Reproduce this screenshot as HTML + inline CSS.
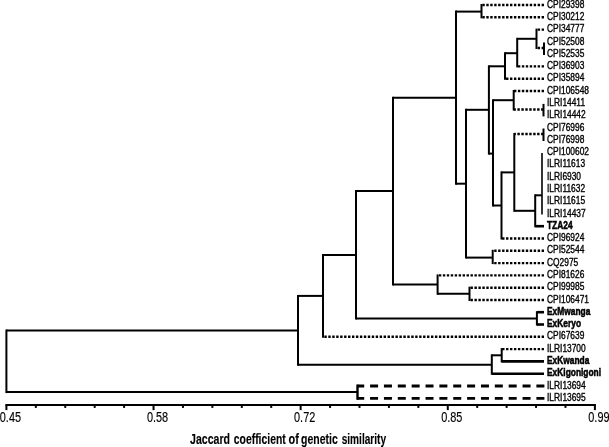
<!DOCTYPE html>
<html><head><meta charset="utf-8"><style>
html,body{margin:0;padding:0;background:#fff;width:609px;height:447px;overflow:hidden}
svg{display:block;will-change:transform}
.s{stroke:#000;stroke-width:2.0;fill:none}
.b{stroke:#000;stroke-width:2.6;fill:none}
.d{stroke:#000;stroke-width:2.4;stroke-dasharray:2.4 1.55;fill:none}
.da{stroke:#000;stroke-width:2.8;stroke-dasharray:8 5.86;fill:none}
.t{stroke:#000;stroke-width:1.6;fill:none}
.v3{stroke:#000;stroke-width:2.4;fill:none}
text{font-family:"Liberation Sans",sans-serif;fill:#000}
.l{font-size:10px;stroke:#000;stroke-width:0.36}
.lb{font-size:10px;font-weight:bold;stroke:#000;stroke-width:0.5}
.ax{font-size:14px;stroke:#000;stroke-width:0.15}
.ti{font-size:14px;font-weight:bold;stroke:#000;stroke-width:0.15}
</style></head><body>
<svg width="609" height="447" viewBox="0 0 609 447">
<line x1="481.5" y1="4.0" x2="481.5" y2="18.3" class="s"/>
<line x1="544.0" y1="5.0" x2="481.5" y2="5.0" class="d"/>
<line x1="544.0" y1="17.3" x2="481.5" y2="17.3" class="d"/>
<line x1="544.0" y1="42.5" x2="544.0" y2="55.0" class="s"/>
<line x1="536.5" y1="28.6" x2="536.5" y2="49.0" class="s"/>
<line x1="544.0" y1="29.6" x2="536.5" y2="29.6" class="d"/>
<line x1="544.0" y1="48.0" x2="536.5" y2="48.0" class="d"/>
<line x1="517.2" y1="37.8" x2="517.2" y2="67.4" class="s"/>
<line x1="517.2" y1="38.8" x2="536.5" y2="38.8" class="s"/>
<line x1="544.0" y1="66.4" x2="517.2" y2="66.4" class="d"/>
<line x1="505.0" y1="52.2" x2="505.0" y2="79.7" class="s"/>
<line x1="505.0" y1="53.2" x2="517.2" y2="53.2" class="s"/>
<line x1="544.0" y1="78.7" x2="505.0" y2="78.7" class="d"/>
<line x1="543.5" y1="103.9" x2="543.5" y2="116.4" class="s"/>
<line x1="513.7" y1="90.0" x2="513.7" y2="110.5" class="s"/>
<line x1="544.0" y1="91.0" x2="513.7" y2="91.0" class="d"/>
<line x1="543.5" y1="109.5" x2="513.7" y2="109.5" class="d"/>
<line x1="543.5" y1="128.5" x2="543.5" y2="141.0" class="s"/>
<line x1="542.0" y1="152.9" x2="542.0" y2="214.5" class="t"/>
<line x1="535.2" y1="194.3" x2="535.2" y2="227.2" class="s"/>
<line x1="535.2" y1="195.3" x2="542.0" y2="195.3" class="s"/>
<line x1="535.2" y1="226.2" x2="544.0" y2="226.2" class="b"/>
<line x1="514.3" y1="133.0" x2="514.3" y2="211.8" class="s"/>
<line x1="543.5" y1="134.0" x2="514.3" y2="134.0" class="d"/>
<line x1="514.3" y1="210.8" x2="535.2" y2="210.8" class="s"/>
<line x1="501.5" y1="171.4" x2="501.5" y2="239.5" class="s"/>
<line x1="501.5" y1="172.4" x2="514.3" y2="172.4" class="s"/>
<line x1="544.0" y1="238.5" x2="501.5" y2="238.5" class="d"/>
<line x1="493.0" y1="99.2" x2="493.0" y2="206.5" class="s"/>
<line x1="493.0" y1="100.2" x2="513.7" y2="100.2" class="s"/>
<line x1="493.0" y1="205.5" x2="501.5" y2="205.5" class="s"/>
<line x1="488.9" y1="65.3" x2="488.9" y2="154.6" class="s"/>
<line x1="488.9" y1="66.3" x2="505.0" y2="66.3" class="s"/>
<line x1="488.9" y1="153.6" x2="493.0" y2="153.6" class="s"/>
<line x1="492.7" y1="249.8" x2="492.7" y2="264.1" class="s"/>
<line x1="544.0" y1="250.8" x2="492.7" y2="250.8" class="d"/>
<line x1="544.0" y1="263.1" x2="492.7" y2="263.1" class="d"/>
<line x1="466.0" y1="108.8" x2="466.0" y2="258.6" class="s"/>
<line x1="466.0" y1="109.8" x2="488.9" y2="109.8" class="s"/>
<line x1="466.0" y1="257.6" x2="492.7" y2="257.6" class="s"/>
<line x1="456.0" y1="10.6" x2="456.0" y2="184.7" class="s"/>
<line x1="456.0" y1="11.6" x2="481.5" y2="11.6" class="s"/>
<line x1="456.0" y1="183.7" x2="466.0" y2="183.7" class="s"/>
<line x1="469.5" y1="286.7" x2="469.5" y2="301.0" class="s"/>
<line x1="544.0" y1="287.7" x2="469.5" y2="287.7" class="d"/>
<line x1="544.0" y1="300.0" x2="469.5" y2="300.0" class="d"/>
<line x1="437.6" y1="274.4" x2="437.6" y2="294.8" class="s"/>
<line x1="544.0" y1="275.4" x2="437.6" y2="275.4" class="d"/>
<line x1="437.6" y1="293.8" x2="469.5" y2="293.8" class="s"/>
<line x1="393.0" y1="96.7" x2="393.0" y2="285.6" class="s"/>
<line x1="393.0" y1="97.7" x2="456.0" y2="97.7" class="s"/>
<line x1="393.0" y1="284.6" x2="437.6" y2="284.6" class="s"/>
<line x1="536.9" y1="311.2" x2="536.9" y2="325.5" class="s"/>
<line x1="536.9" y1="312.2" x2="544.0" y2="312.2" class="b"/>
<line x1="536.9" y1="324.5" x2="544.0" y2="324.5" class="b"/>
<line x1="356.0" y1="190.1" x2="356.0" y2="319.4" class="s"/>
<line x1="356.0" y1="191.1" x2="393.0" y2="191.1" class="s"/>
<line x1="356.0" y1="318.4" x2="536.9" y2="318.4" class="s"/>
<line x1="323.0" y1="254.0" x2="323.0" y2="337.8" class="s"/>
<line x1="323.0" y1="255.0" x2="356.0" y2="255.0" class="s"/>
<line x1="544.0" y1="336.8" x2="323.0" y2="336.8" class="d"/>
<line x1="501.7" y1="348.1" x2="501.7" y2="362.4" class="s"/>
<line x1="544.0" y1="349.1" x2="501.7" y2="349.1" class="d"/>
<line x1="501.7" y1="361.4" x2="544.0" y2="361.4" class="b"/>
<line x1="491.8" y1="354.3" x2="491.8" y2="374.7" class="s"/>
<line x1="491.8" y1="355.3" x2="501.7" y2="355.3" class="s"/>
<line x1="491.8" y1="373.7" x2="544.0" y2="373.7" class="b"/>
<line x1="298.0" y1="294.9" x2="298.0" y2="365.8" class="s"/>
<line x1="298.0" y1="295.9" x2="323.0" y2="295.9" class="s"/>
<line x1="298.0" y1="364.8" x2="491.8" y2="364.8" class="s"/>
<line x1="357.5" y1="384.5" x2="357.5" y2="399.8" class="v3"/>
<line x1="544.4" y1="386.0" x2="357.5" y2="386.0" class="da"/>
<line x1="544.4" y1="398.3" x2="357.5" y2="398.3" class="da"/>
<line x1="6.4" y1="329.5" x2="6.4" y2="393.1" class="s"/>
<line x1="6.4" y1="330.5" x2="298.0" y2="330.5" class="s"/>
<line x1="6.4" y1="392.1" x2="357.5" y2="392.1" class="s"/>
<line x1="5.4" y1="404.9" x2="595.9" y2="404.9" class="s"/>
<line x1="6.40" y1="404.9" x2="6.40" y2="410.1" class="s"/>
<line x1="35.83" y1="404.9" x2="35.83" y2="407.9" class="s"/>
<line x1="65.25" y1="404.9" x2="65.25" y2="407.9" class="s"/>
<line x1="94.68" y1="404.9" x2="94.68" y2="407.9" class="s"/>
<line x1="124.10" y1="404.9" x2="124.10" y2="407.9" class="s"/>
<line x1="153.53" y1="404.9" x2="153.53" y2="410.1" class="s"/>
<line x1="182.95" y1="404.9" x2="182.95" y2="407.9" class="s"/>
<line x1="212.38" y1="404.9" x2="212.38" y2="407.9" class="s"/>
<line x1="241.80" y1="404.9" x2="241.80" y2="407.9" class="s"/>
<line x1="271.22" y1="404.9" x2="271.22" y2="407.9" class="s"/>
<line x1="300.65" y1="404.9" x2="300.65" y2="410.1" class="s"/>
<line x1="330.07" y1="404.9" x2="330.07" y2="407.9" class="s"/>
<line x1="359.50" y1="404.9" x2="359.50" y2="407.9" class="s"/>
<line x1="388.93" y1="404.9" x2="388.93" y2="407.9" class="s"/>
<line x1="418.35" y1="404.9" x2="418.35" y2="407.9" class="s"/>
<line x1="447.77" y1="404.9" x2="447.77" y2="410.1" class="s"/>
<line x1="477.20" y1="404.9" x2="477.20" y2="407.9" class="s"/>
<line x1="506.62" y1="404.9" x2="506.62" y2="407.9" class="s"/>
<line x1="536.05" y1="404.9" x2="536.05" y2="407.9" class="s"/>
<line x1="565.48" y1="404.9" x2="565.48" y2="407.9" class="s"/>
<line x1="594.90" y1="404.9" x2="594.90" y2="410.1" class="s"/>
<text x="0" y="0" transform="translate(-0.20,422.4) scale(0.78,1)" class="ax">0.45</text>
<text x="0" y="0" transform="translate(146.93,422.4) scale(0.78,1)" class="ax">0.58</text>
<text x="0" y="0" transform="translate(294.05,422.4) scale(0.78,1)" class="ax">0.72</text>
<text x="0" y="0" transform="translate(441.17,422.4) scale(0.78,1)" class="ax">0.85</text>
<text x="0" y="0" transform="translate(588.30,422.4) scale(0.78,1)" class="ax">0.99</text>
<text x="190.10" y="443.8" textLength="39.90" lengthAdjust="spacingAndGlyphs" class="ti">Jaccard</text>
<text x="233.80" y="443.8" textLength="51.90" lengthAdjust="spacingAndGlyphs" class="ti">coefficient</text>
<text x="288.60" y="443.8" textLength="10.30" lengthAdjust="spacingAndGlyphs" class="ti">of</text>
<text x="301.10" y="443.8" textLength="36.60" lengthAdjust="spacingAndGlyphs" class="ti">genetic</text>
<text x="341.70" y="443.8" textLength="44.40" lengthAdjust="spacingAndGlyphs" class="ti">similarity</text>
<text x="0" y="0" transform="translate(547.0,7.65) scale(0.84,1)" class="l">CPI29398</text>
<text x="0" y="0" transform="translate(547.0,19.94) scale(0.84,1)" class="l">CPI30212</text>
<text x="0" y="0" transform="translate(547.0,32.23) scale(0.84,1)" class="l">CPI34777</text>
<text x="0" y="0" transform="translate(547.0,44.52) scale(0.84,1)" class="l">CPI52508</text>
<text x="0" y="0" transform="translate(547.0,56.81) scale(0.84,1)" class="l">CPI52535</text>
<text x="0" y="0" transform="translate(547.0,69.10) scale(0.84,1)" class="l">CPI36903</text>
<text x="0" y="0" transform="translate(547.0,81.39) scale(0.84,1)" class="l">CPI35894</text>
<text x="0" y="0" transform="translate(547.0,93.68) scale(0.84,1)" class="l">CPI106548</text>
<text x="0" y="0" transform="translate(547.0,105.97) scale(0.84,1)" class="l">ILRI14411</text>
<text x="0" y="0" transform="translate(547.0,118.26) scale(0.84,1)" class="l">ILRI14442</text>
<text x="0" y="0" transform="translate(547.0,130.55) scale(0.84,1)" class="l">CPI76996</text>
<text x="0" y="0" transform="translate(547.0,142.84) scale(0.84,1)" class="l">CPI76998</text>
<text x="0" y="0" transform="translate(547.0,155.13) scale(0.84,1)" class="l">CPI100602</text>
<text x="0" y="0" transform="translate(547.0,167.42) scale(0.84,1)" class="l">ILRI11613</text>
<text x="0" y="0" transform="translate(547.0,179.71) scale(0.84,1)" class="l">ILRI6930</text>
<text x="0" y="0" transform="translate(547.0,192.00) scale(0.84,1)" class="l">ILRI11632</text>
<text x="0" y="0" transform="translate(547.0,204.29) scale(0.84,1)" class="l">ILRI11615</text>
<text x="0" y="0" transform="translate(547.0,216.58) scale(0.84,1)" class="l">ILRI14437</text>
<text x="0" y="0" transform="translate(547.0,228.87) scale(0.84,1)" class="lb">TZA24</text>
<text x="0" y="0" transform="translate(547.0,241.16) scale(0.84,1)" class="l">CPI96924</text>
<text x="0" y="0" transform="translate(547.0,253.45) scale(0.84,1)" class="l">CPI52544</text>
<text x="0" y="0" transform="translate(547.0,265.74) scale(0.84,1)" class="l">CQ2975</text>
<text x="0" y="0" transform="translate(547.0,278.03) scale(0.84,1)" class="l">CPI81626</text>
<text x="0" y="0" transform="translate(547.0,290.32) scale(0.84,1)" class="l">CPI99985</text>
<text x="0" y="0" transform="translate(547.0,302.61) scale(0.84,1)" class="l">CPI106471</text>
<text x="0" y="0" transform="translate(547.0,314.90) scale(0.84,1)" class="lb">ExMwanga</text>
<text x="0" y="0" transform="translate(547.0,327.19) scale(0.84,1)" class="lb">ExKeryo</text>
<text x="0" y="0" transform="translate(547.0,339.48) scale(0.84,1)" class="l">CPI67639</text>
<text x="0" y="0" transform="translate(547.0,351.77) scale(0.84,1)" class="l">ILRI13700</text>
<text x="0" y="0" transform="translate(547.0,364.06) scale(0.84,1)" class="lb">ExKwanda</text>
<text x="0" y="0" transform="translate(547.0,376.35) scale(0.84,1)" class="lb">ExKigonigoni</text>
<text x="0" y="0" transform="translate(547.0,388.64) scale(0.84,1)" class="l">ILRI13694</text>
<text x="0" y="0" transform="translate(547.0,400.93) scale(0.84,1)" class="l">ILRI13695</text>
</svg>
</body></html>
